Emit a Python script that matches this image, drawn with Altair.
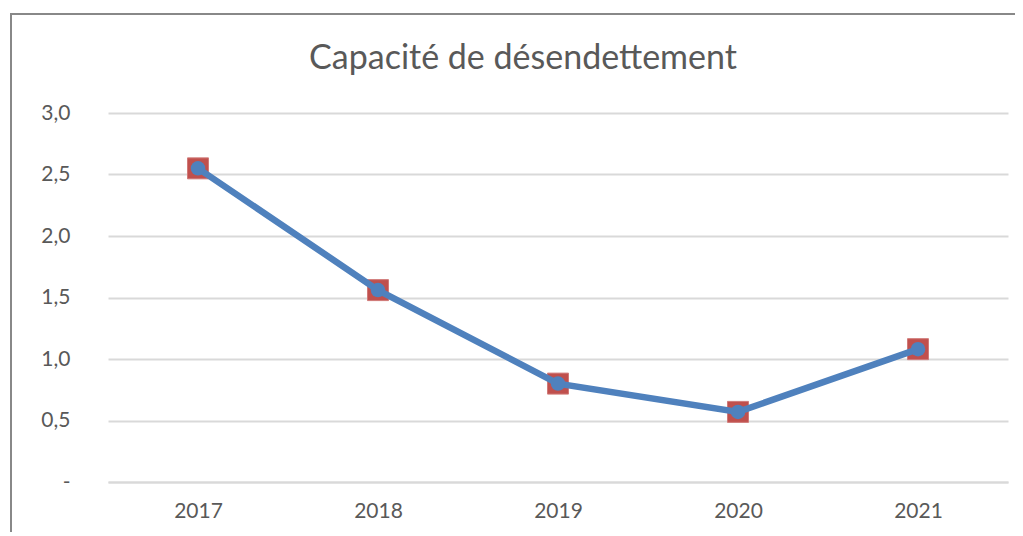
import altair as alt
import pandas as pd

years = ["2017", "2018", "2019", "2020", "2021"]
values = [2.55, 1.56, 0.80, 0.57, 1.08]

df = pd.DataFrame({"annee": years, "valeur": values})

FONT = "Lato"
LABEL_COLOR = "#595959"

x_enc = alt.X("annee:N", sort=years, title=None,
              scale=alt.Scale(paddingInner=0, paddingOuter=0.5),
              axis=alt.Axis(labelAngle=0, ticks=False, domain=True, domainColor="#D9D9D9",
                            domainWidth=2, labelFontSize=21, labelFont=FONT,
                            labelColor=LABEL_COLOR, labelPadding=18, grid=False))
y_enc = alt.Y("valeur:Q", title=None,
              scale=alt.Scale(domain=[0, 3], nice=False),
              axis=alt.Axis(values=[0, 0.5, 1, 1.5, 2, 2.5, 3], ticks=False, domain=False,
                            grid=True, gridColor="#D9D9D9", gridWidth=2,
                            labelFontSize=21, labelFont=FONT, labelColor=LABEL_COLOR,
                            labelPadding=38,
                            labelExpr="datum.value == 0 ? '-' : replace(format(datum.value, '.1f'), '.', ',')"))

base = alt.Chart(df)

frame = alt.Chart(pd.DataFrame({"a": [0]})).mark_rect(
    filled=False, stroke="#888888", strokeWidth=2
).encode(x=alt.value(-97), x2=alt.value(960), y=alt.value(-99), y2=alt.value(470))

squares = base.mark_point(shape="square", filled=True, size=440, color="#C0504D",
                          opacity=1, stroke="#D07A78", strokeWidth=1).encode(x=x_enc, y=y_enc)
line = base.mark_line(color="#4F81BD", strokeWidth=6.5).encode(x=x_enc, y=y_enc)
dots = base.mark_point(shape="circle", filled=True, size=210, color="#4F81BD",
                       opacity=1).encode(x=x_enc, y=y_enc)

chart = alt.layer(frame, squares, line, dots).properties(
    width=900, height=369,
    background="white",
    title=alt.TitleParams("Capacité de désendettement", font=FONT, fontSize=34,
                          fontWeight="normal", color=LABEL_COLOR, anchor="middle",
                          frame="group", baseline="alphabetic", offset=-90, dx=-35),
    autosize=alt.AutoSizeParams(type="none"),
    padding={"left": 100, "top": 105, "right": 7, "bottom": 50},
).configure_view(strokeWidth=0, stroke=None)

chart.save("out.html", embed_options={"renderer": "svg", "actions": False})
